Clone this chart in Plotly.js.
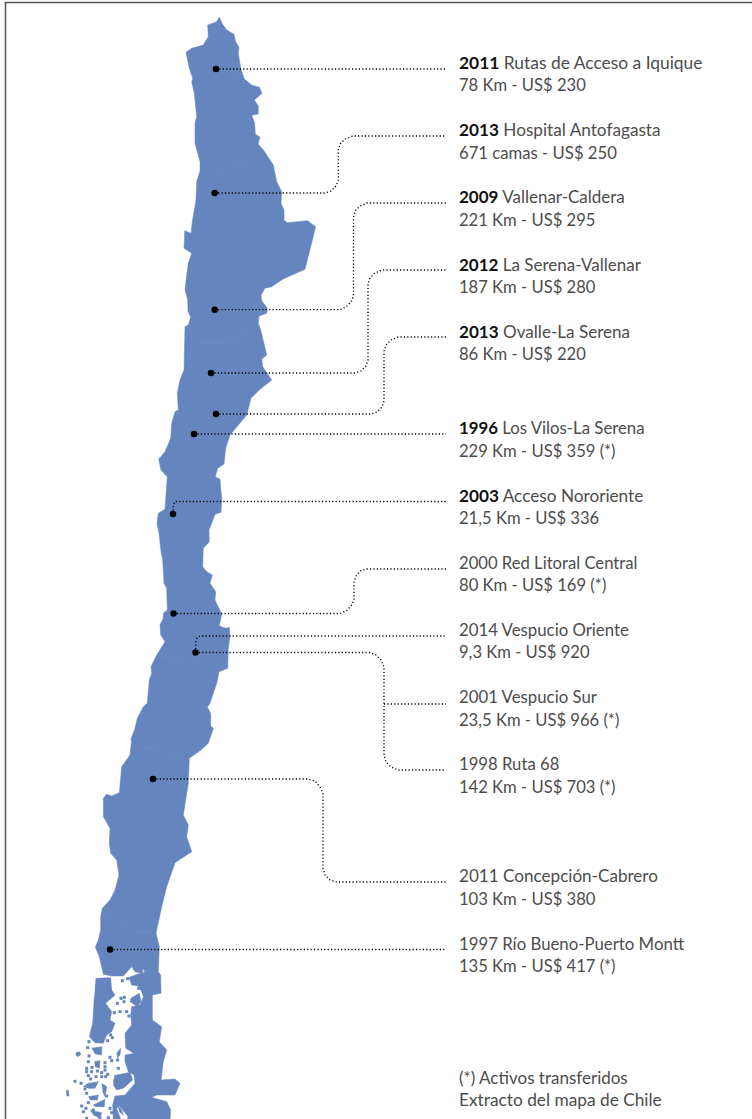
<!DOCTYPE html>
<html>
<head>
<meta charset="utf-8">
<script src="https://cdn.plot.ly/plotly-3.0.1.min.js"></script>
<style>html,body{margin:0;padding:0;background:#fff}#c{width:752px;height:1119px}</style>
</head>
<body>
<div id="c"></div>
<script>
// Outline of the country
const northX = [219.3,222.3,226.7,234,235.7,239,238.3,240.7,244.3,251.7,259.3,262,254.3,258.3,258.3,251.7,254.7,255.3,260,258,264,273.3,276.7,281.7,281,284,284,287.3,307.3,315.7,305,282.7,271.7,265,261,261.7,267.3,266.7,259,258.3,260.7,266.7,261.7,262.7,271.7,260,251,246.7,230,225.7,224,217.7,215.3,220,220.7,221.7,221,215,211.7,209,209.3,203.3,202.7,206.7,212.3,210,215.7,215,221.7,219.3,225.7,229.3,230,228.3,227.7,222.7,219,216.7,215,210,207.3,210.7,210.7,213.3,208.3,201,189.3,188.3,183.3,188.3,186.7,191.7,175,166.7,161.7,156,159.3,158.3,160.7,161];
const northY = [17.3,24,30,34.3,41.7,47.3,53.3,68.3,79,85,87.3,93.3,100,106,114,115.3,123.3,134,137.3,144,150.7,165,181.7,191.7,203.3,210,220,222.7,220.7,226.7,269.3,279.3,286.7,288.3,295,300.7,308.3,313.3,316,323.3,330,355,359.3,366.7,380,389.3,398.3,415,435,448.3,464,468.3,476.7,479.3,488.3,498.3,512.3,514.3,523.3,530,541.7,548.3,566.7,571.7,575,583.3,591.7,600,614,626,628.3,627.3,636.7,648.3,668.3,670,671.7,683.3,688.3,703.3,707.3,713.3,726,728.3,743.3,750,758.3,783.3,815,825,836.7,851.7,862.7,886.7,906.7,933.3,946.7,971.7,975,993.3];
// southern mainland, in 3x crop units (x0=60, y0=740)
const southCropX = [277,277,305,298,320,310,303,345,360,345,290,275,320,332,330,205,203,178,170,185,160,158,165,195,225,222,205,195,195,222,197,195,215,212,215,240,250,245,235,215,207,255,250,245,225,215,190,155,130,125,118,106,115,122,122,127,150,165,177,170,152,148,150,130,130,140,155,178,185,210,215];
const southCropY = [765,840,860,905,930,965,1020,1017,1030,1065,1065,1072,1085,1110,1145,1145,1128,1098,1105,1145,1145,1095,1068,1065,1030,1005,995,965,945,940,925,880,855,825,800,795,770,755,738,735,712,695,688,700,695,680,708,708,703,682,650,622,600,570,530,505,480,450,405,360,340,310,265,230,175,163,168,158,80,45,0];
const westX = [130.7,135,137.3,143.3,147.3,149.3,151.7,151,156.7,165,160.7,160,163.3,163.3,167.3,166.7,164,162.7,161,159,157,158.3,165,166.7,167.3,161,158.7,165,170.7,171.7,175,178.3,177.3,180,184,185,188.3,190.7,188,187.7,185,186.7,188.3,191.7,184,184.7,191,192.3,196,196.7,200,200,195,195,196.7,194.3,191.7,192.7,189.3,186,191.7,203.3,208.3,207.7,216.7,219.3];
const westY = [740,728.3,718.3,706.7,703.3,680,673.3,666.7,655,641.7,635,625,618.3,613.3,610,588.3,583.3,560,551.7,533.3,523.3,513.3,509.3,488.3,476.7,470,459.3,451.7,438.3,423.3,411.7,410,393.3,380,370,326.7,325,316.7,311.7,300,290,275,263.3,253.3,248.3,230.7,233.3,221.7,200,181.7,171,161.7,143.3,123.3,116.7,93.3,81.7,78.3,68.3,52.3,48.3,45,36.7,25,21.7,17.3];
// islands in crop units, null separates pieces
const islesCropX = [107,152,155,165,137,155,150,165,155,140,130,105,88,98,103,null,160,170,210,218,190,170,160,null,212,238,243,232,210,null,48,58,63,55,47,null,95,125,125,105,null,170,182,180,172,null,103,120,118,105,null,70,85,115,105,85,null,85,115,112,90,null,100,135,133,105,null,18,25,27,20,null,125,140,135,128,null,90,125,120,100,null,172,185,190,178];
const islesCropY = [715,713,750,765,790,815,840,850,875,885,910,908,890,850,770,null,1020,1005,997,1020,1045,1050,1035,null,775,760,785,800,785,null,938,935,942,950,945,null,925,920,945,942,null,940,925,945,955,null,965,962,985,980,null,1040,1030,1025,1045,1045,null,1070,1065,1080,1080,null,1095,1078,1100,1100,null,1052,1050,1068,1068,null,1030,1040,1070,1055,null,1110,1118,1135,1125,null,1095,1110,1125,1115];
const isletCropX = [187,203,236,183,193,172,192,163,180,200,207,152,157,143,87,83,150,135,155,173,87,85,135,135,175,80,96,112,80,95,125,143,85,108,125,137,167,45,63,75,92,80,140,65,78,85,150,155,70,120,145,80,100];
const isletCropY = [722,716,745,775,772,790,785,818,815,815,828,885,893,902,905,923,952,968,962,960,948,965,980,990,985,985,982,993,995,995,998,1003,1007,1010,1010,1010,1010,1024,1030,1047,1017,1060,1068,1098,1105,1088,1105,1118,1115,1135,1133,1135,1110];
const regionX = [262.7,246.7,230,221.7,215,200,null,185,200,220,241.7,244,258.3,null,226.7,235,241.7,null,175,178.3,null,205,210,219.3,null,156.7,166.7,176.7,188.3,200,null,156,166.7,176.7,null,143.3,150,null,143.3,163.3,183.3,190,null,102.3,125,137.3,156,null,166.7,171.7];
const regionY = [148.3,162.3,167.3,176.7,170,170,null,350,343.3,342.7,336.7,325,318.3,null,78.3,78.3,73.3,null,473.3,476,null,478.3,481,481,null,655,658.3,660,666,656.7,null,690,696.7,693.3,null,746.7,749,null,746.7,751.7,758.3,756.7,null,916,921.7,932.7,931.7,null,838.3,836];

// project dots
const dotX = [216,214.7,214.7,211,216,194,173,173.5,195.5,153,110];
const dotY = [69,193,309.7,373,414,434,514,613.5,652.5,779,949.5];

// leader lines
const leaders = [
 [[216,446],[69,69]],
 [[214.7,325,331,336,338.3,338.3,340,345,353,446],[193,193,191,186,180,150,144,139,136,136]],
 [[214.7,340,346,351,353.5,353.5,355,360,367,446],[309.7,309.7,307,302,296,217,211,206,203,203]],
 [[211,355,361,366,368,368,370,375,382,446],[373,373,371,366,360,284,278,273,270,270]],
 [[216,371,377,382,384,384,386,391,398,446],[414,414,412,407,401,351,345,340,337,337]],
 [[194,446],[434,434]],
 [[173,173.5,175,446],[514,505,501.5,501.5]],
 [[173.5,340,346,351,354,354,356,360,366,446],[613.5,613.5,611,606,600,582,576,571,569,569]],
 [[195.5,195.8,197,200,446],[652.5,642,638,636,636]],
 [[195.5,370,376,381,384,384,386,391,398,446],[652.5,652.5,655,660,667,755,762,767,770,770]],
 [[384,446],[704,704]],
 [[153,308,315,320,323,323,325,330,337,446],[779,779,781,787,793,868,875,880,882,882]],
 [[110,446],[949.5,949.5]]
];

const labelYears = ["2011","2013","2009","2012","2013","1996","2003","","","","","","",""];
const labelNames = ["Rutas de Acceso a Iquique","Hospital Antofagasta","Vallenar-Caldera","La Serena-Vallenar","Ovalle-La Serena","Los Vilos-La Serena","Acceso Nororiente","2000 Red Litoral Central","2014 Vespucio Oriente","2001 Vespucio Sur","1998 Ruta 68","2011 Concepción-Cabrero","1997 Río Bueno-Puerto Montt","(*) Activos transferidos"];
const labelDetails = ["78 Km - US$ 230","671 camas - US$ 250","221 Km - US$ 295","187 Km - US$ 280","86 Km - US$ 220","229 Km - US$ 359 (*)","21,5 Km - US$ 336","80 Km - US$ 169 (*)","9,3 Km - US$ 920","23,5 Km - US$ 966 (*)","142 Km - US$ 703 (*)","103 Km - US$ 380","135 Km - US$ 417 (*)","Extracto del mapa de Chile"];
const labelTop = [63,130,197,265,332,428,496,563,630,697,764,876,944,1078];
const labelBottom = [85,153,220,287,354,451,518,585,652,720,787,899,966,1100];
const nameSizes = [17.4,17.2,17.0,17.0,17.1,16.8,17.2,16.65,16.8,16.8,16.7,17.1,16.8,17.0];
const detailSizes = [16.6,16.7,16.6,16.6,16.6,16.6,16.6,16.65,16.6,16.6,16.6,16.6,16.6,17.3];

const BLUE = '#6585be';
const cropX = a => a.map(v => v === null ? null : 60 + v/3);
const cropY = a => a.map(v => v === null ? null : 740 + v/3);
const outlineX = northX.concat(cropX(southCropX), westX);
const outlineY = northY.concat(cropY(southCropY), westY);
const textX = labelTop.map(() => 459);
const FONT = 'Lato, sans-serif', INK = '#4c4c4c';

const traces = [
 {x:outlineX,y:outlineY,mode:'lines',fill:'toself',fillcolor:BLUE,line:{color:BLUE,width:0.5},hoverinfo:'skip'},
 {x:cropX(islesCropX),y:cropY(islesCropY),mode:'lines',fill:'toself',fillcolor:BLUE,line:{color:BLUE,width:0.5},hoverinfo:'skip'},
 {x:cropX(isletCropX),y:cropY(isletCropY),mode:'markers',marker:{symbol:'square',size:3,color:BLUE},hoverinfo:'skip'},
 {x:regionX,y:regionY,mode:'lines',line:{color:'#7792c6',width:0.45},hoverinfo:'skip'},
 {x:[5.5,5.5,752],y:[1119,2.5,2.5],mode:'lines',line:{color:'#555555',width:1.5},hoverinfo:'skip'}
];
leaders.forEach(l => traces.push({x:l[0],y:l[1],mode:'lines',line:{color:'#000000',width:1.3,dash:'1.2px,2.2px'},hoverinfo:'skip'}));
traces.push({x:dotX,y:dotY,mode:'markers',marker:{size:6.5,color:'#000000'},hoverinfo:'skip'});
traces.push({x:textX,y:labelTop.map(v=>v+1.5),mode:'text',textposition:'middle right',cliponaxis:false,
  text:labelNames.map((n,i)=>labelYears[i]?'<b style="color:#111">'+labelYears[i]+'</b> '+n:n),
  textfont:{family:FONT,size:nameSizes,color:INK},hoverinfo:'skip'});
traces.push({x:textX,y:labelBottom.map(v=>v+1.5),mode:'text',textposition:'middle right',cliponaxis:false,
  text:labelDetails,textfont:{family:FONT,size:detailSizes,color:INK},hoverinfo:'skip'});

Plotly.newPlot('c',traces,{
 width:752,height:1119,showlegend:false,margin:{l:0,r:0,t:0,b:0},
 paper_bgcolor:'#ffffff',plot_bgcolor:'#ffffff',
 xaxis:{range:[0,752],visible:false,fixedrange:true},
 yaxis:{range:[1119,0],visible:false,fixedrange:true}
},{displayModeBar:false,staticPlot:true});
</script>
</body>
</html>
